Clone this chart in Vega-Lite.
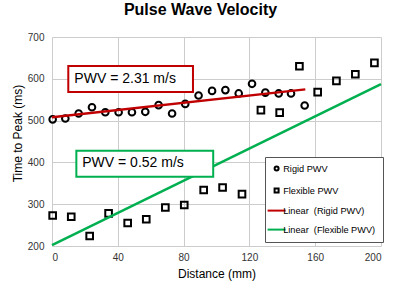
{
  "$schema": "https://vega.github.io/schema/vega-lite/v6.json",
  "width": 329,
  "height": 209,
  "autosize": {"type": "none"},
  "padding": {"left": 52, "top": 37, "right": 19, "bottom": 45},
  "background": "white",
  "title": {"text": "Pulse Wave Velocity", "font": "Liberation Sans", "fontSize": 16, "fontWeight": "bold", "color": "#000000", "anchor": "middle", "dx": -16, "offset": 14},
  "config": {
    "view": {"stroke": null},
    "font": "Liberation Sans",
    "axis": {"grid": true, "gridColor": "#cccccc", "gridWidth": 1, "domain": false, "ticks": false, "labelFont": "Liberation Sans", "labelFontSize": 10, "labelColor": "#333333", "titleFont": "Liberation Sans", "titleFontSize": 12, "titleFontWeight": "normal", "titleColor": "#000000"},
    "legend": {"fillColor": "white", "strokeColor": "#555555", "padding": 7, "labelFont": "Liberation Sans", "labelFontSize": 9.2, "labelColor": "#000000", "rowPadding": 9, "labelOffset": 2, "symbolStrokeWidth": 2, "symbolSize": 16}
  },
  "datasets": {
    "points": [
      {"series": "Rigid PWV", "dist": 0.4, "time": 503},
      {"series": "Rigid PWV", "dist": 8.1, "time": 505},
      {"series": "Rigid PWV", "dist": 16.2, "time": 517},
      {"series": "Rigid PWV", "dist": 24.3, "time": 532},
      {"series": "Rigid PWV", "dist": 32.4, "time": 520},
      {"series": "Rigid PWV", "dist": 40.5, "time": 520},
      {"series": "Rigid PWV", "dist": 48.6, "time": 520},
      {"series": "Rigid PWV", "dist": 56.7, "time": 521},
      {"series": "Rigid PWV", "dist": 64.8, "time": 537},
      {"series": "Rigid PWV", "dist": 73.0, "time": 517},
      {"series": "Rigid PWV", "dist": 81.0, "time": 540},
      {"series": "Rigid PWV", "dist": 89.1, "time": 560},
      {"series": "Rigid PWV", "dist": 97.3, "time": 571},
      {"series": "Rigid PWV", "dist": 105.4, "time": 573},
      {"series": "Rigid PWV", "dist": 113.5, "time": 565},
      {"series": "Rigid PWV", "dist": 121.6, "time": 588},
      {"series": "Rigid PWV", "dist": 129.7, "time": 567},
      {"series": "Rigid PWV", "dist": 137.8, "time": 565},
      {"series": "Rigid PWV", "dist": 145.3, "time": 565},
      {"series": "Rigid PWV", "dist": 153.6, "time": 536},
      {"series": "Flexible PWV", "dist": 0.4, "time": 273},
      {"series": "Flexible PWV", "dist": 11.7, "time": 270},
      {"series": "Flexible PWV", "dist": 22.9, "time": 224},
      {"series": "Flexible PWV", "dist": 34.4, "time": 278},
      {"series": "Flexible PWV", "dist": 46.0, "time": 255},
      {"series": "Flexible PWV", "dist": 57.3, "time": 264},
      {"series": "Flexible PWV", "dist": 68.9, "time": 292},
      {"series": "Flexible PWV", "dist": 80.4, "time": 298},
      {"series": "Flexible PWV", "dist": 92.2, "time": 334},
      {"series": "Flexible PWV", "dist": 103.7, "time": 340},
      {"series": "Flexible PWV", "dist": 115.5, "time": 324},
      {"series": "Flexible PWV", "dist": 127.0, "time": 525},
      {"series": "Flexible PWV", "dist": 138.4, "time": 519},
      {"series": "Flexible PWV", "dist": 150.4, "time": 630},
      {"series": "Flexible PWV", "dist": 161.5, "time": 568},
      {"series": "Flexible PWV", "dist": 172.9, "time": 595},
      {"series": "Flexible PWV", "dist": 184.4, "time": 611},
      {"series": "Flexible PWV", "dist": 196.0, "time": 638}
    ],
    "lines": [
      {"series": "Linear \u00a0(Rigid PWV)", "dist": 0, "time": 508},
      {"series": "Linear \u00a0(Rigid PWV)", "dist": 154, "time": 574.7},
      {"series": "Linear \u00a0(Flexible PWV)", "dist": 0, "time": 202},
      {"series": "Linear \u00a0(Flexible PWV)", "dist": 200, "time": 587}
    ]
  },
  "layer": [
    {
      "data": {"name": "points"},
      "mark": {"type": "point", "filled": false, "strokeWidth": 2, "size": 44, "opacity": 1},
      "encoding": {
        "x": {"field": "dist", "type": "quantitative", "scale": {"domain": [0, 200], "nice": false}, "axis": {"values": [0, 40, 80, 120, 160, 200], "title": "Distance (mm)", "labelPadding": 6, "titlePadding": 6}},
        "y": {"field": "time", "type": "quantitative", "scale": {"domain": [200, 700], "nice": false, "zero": false}, "axis": {"values": [200, 250, 300, 350, 400, 450, 500, 550, 600, 650, 700], "title": "Time to Peak (ms)", "labelPadding": 8, "titlePadding": 3, "titleY": 96}},
        "shape": {"field": "series", "type": "nominal", "scale": {"domain": ["Rigid PWV", "Flexible PWV", "Linear \u00a0(Rigid PWV)", "Linear \u00a0(Flexible PWV)"], "range": ["circle", "square", "M-4.5,0H4.5", "M-4.5,0H4.5"]}, "legend": {"title": null, "orient": "none", "legendX": 213, "legendY": 120, "symbolSize": 16, "encode": {"symbols": {"update": {"size": {"value": 16}, "strokeWidth": {"value": 2}}}}}},
        "color": {"field": "series", "type": "nominal", "scale": {"domain": ["Rigid PWV", "Flexible PWV", "Linear \u00a0(Rigid PWV)", "Linear \u00a0(Flexible PWV)"], "range": ["#000000", "#000000", "#c00000", "#00b050"]}, "legend": {"title": null, "orient": "none", "legendX": 213, "legendY": 120, "symbolSize": 16, "encode": {"symbols": {"update": {"size": {"value": 16}, "strokeWidth": {"value": 2}}}}}}
      }
    },
    {
      "data": {"name": "lines"},
      "mark": {"type": "line", "strokeWidth": 2.5},
      "encoding": {
        "x": {"field": "dist", "type": "quantitative"},
        "y": {"field": "time", "type": "quantitative"},
        "color": {"field": "series", "type": "nominal"}
      }
    },
    {
      "data": {"values": [{"x1": 9.9, "x2": 85.7, "y1": 568.4, "y2": 630.6}]},
      "mark": {"type": "rect", "fill": "white", "stroke": "#c00000", "strokeWidth": 2},
      "encoding": {
        "x": {"field": "x1", "type": "quantitative"},
        "x2": {"field": "x2"},
        "y": {"field": "y1", "type": "quantitative"},
        "y2": {"field": "y2"}
      }
    },
    {
      "data": {"values": [{"x1": 14.8, "x2": 98, "y1": 365.8, "y2": 428}]},
      "mark": {"type": "rect", "fill": "white", "stroke": "#00b050", "strokeWidth": 2},
      "encoding": {
        "x": {"field": "x1", "type": "quantitative"},
        "x2": {"field": "x2"},
        "y": {"field": "y1", "type": "quantitative"},
        "y2": {"field": "y2"}
      }
    },
    {
      "data": {"values": [{"label": "PWV = 2.31 m/s", "x": 13.6, "y": 600}, {"label": "PWV = 0.52 m/s", "x": 18.4, "y": 398.5}]},
      "mark": {"type": "text", "align": "left", "baseline": "middle", "fontSize": 14, "font": "Liberation Sans", "color": "#000000"},
      "encoding": {
        "x": {"field": "x", "type": "quantitative"},
        "y": {"field": "y", "type": "quantitative"},
        "text": {"field": "label"}
      }
    }
  ]
}
